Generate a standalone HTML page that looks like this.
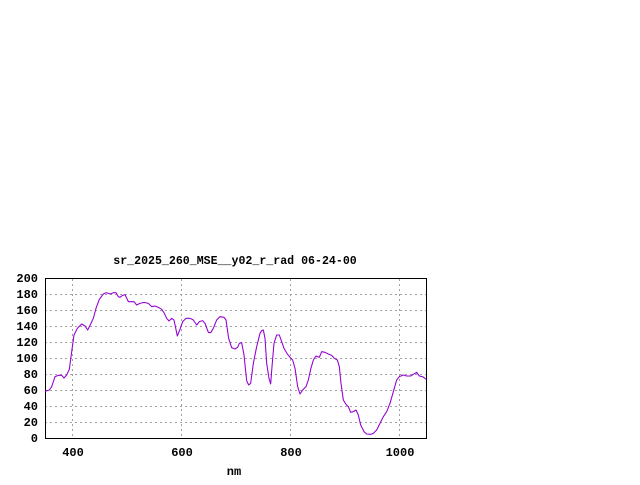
<!DOCTYPE html>
<html><head><meta charset="utf-8"><style>html,body{margin:0;padding:0;background:#fff}</style></head>
<body>
<svg width="640" height="480" viewBox="0 0 640 480" xmlns="http://www.w3.org/2000/svg" font-family="Liberation Mono, monospace" font-weight="bold" font-size="12">
<rect width="640" height="480" fill="#fff"/>
<g stroke="#a0a0a0" stroke-width="1" stroke-dasharray="2,3">
<line x1="45" x2="426" y1="422.5" y2="422.5"/><line x1="45" x2="426" y1="406.5" y2="406.5"/><line x1="45" x2="426" y1="390.5" y2="390.5"/><line x1="45" x2="426" y1="374.5" y2="374.5"/><line x1="45" x2="426" y1="358.5" y2="358.5"/><line x1="45" x2="426" y1="342.5" y2="342.5"/><line x1="45" x2="426" y1="326.5" y2="326.5"/><line x1="45" x2="426" y1="310.5" y2="310.5"/><line x1="45" x2="426" y1="294.5" y2="294.5"/>
<line x1="72.5" x2="72.5" y1="279" y2="438"/><line x1="181.5" x2="181.5" y1="279" y2="438"/><line x1="290.5" x2="290.5" y1="279" y2="438"/><line x1="399.5" x2="399.5" y1="279" y2="438"/>
</g>
<rect x="45.5" y="278.5" width="381" height="160" fill="none" stroke="#000"/>
<g text-anchor="end">
<text x="38" y="442">0</text><text x="38" y="426">20</text><text x="38" y="410">40</text><text x="38" y="394">60</text><text x="38" y="378">80</text><text x="38" y="362">100</text><text x="38" y="346">120</text><text x="38" y="330">140</text><text x="38" y="314">160</text><text x="38" y="298">180</text><text x="38" y="282">200</text>
</g>
<g text-anchor="middle">
<text x="73" y="456">400</text><text x="182" y="456">600</text><text x="291" y="456">800</text><text x="400" y="456">1000</text>
<text x="234" y="475">nm</text>
<text x="235" y="264" font-size="11.6">sr_2025_260_MSE__y02_r_rad 06-24-00</text>
</g>
<g transform="translate(0,250) scale(0.3333333)">
<polyline fill="none" stroke="#9400d3" stroke-width="3.2" stroke-linejoin="round" points="135,424 148,420 155,410 165,380 175,376 185,376 192,384 200,375 208,358 213,320 222,255 232,235 245,222 255,228 263,240 272,222 280,205 288,175 298,148 310,132 318,128 325,130 332,132 340,128 348,128 355,140 360,142 368,136 375,134 385,155 395,155 402,155 410,165 420,160 432,157 445,160 455,170 465,168 475,172 485,178 492,188 500,205 507,213 515,205 522,210 532,258 540,238 548,215 558,205 570,205 580,210 590,225 598,215 608,212 615,220 625,247 632,248 640,235 650,210 660,200 672,202 678,210 686,265 695,293 705,297 713,292 718,280 725,278 732,315 740,392 746,405 752,400 760,340 770,290 780,250 785,242 790,240 795,265 800,340 807,385 812,402 816,350 822,280 830,255 838,255 845,275 852,295 862,312 870,322 878,330 885,355 893,410 900,432 908,420 918,410 925,390 932,358 940,330 948,318 958,322 965,305 975,307 985,312 995,316 1003,325 1012,330 1018,350 1023,400 1030,450 1038,463 1045,470 1052,487 1060,485 1068,480 1075,495 1082,525 1092,545 1100,552 1112,553 1120,550 1130,540 1140,520 1150,500 1160,485 1170,460 1180,425 1190,390 1198,380 1210,375 1220,378 1232,378 1240,373 1250,367 1258,378 1268,380 1279,388"/>
</g>
</svg>
</body></html>
